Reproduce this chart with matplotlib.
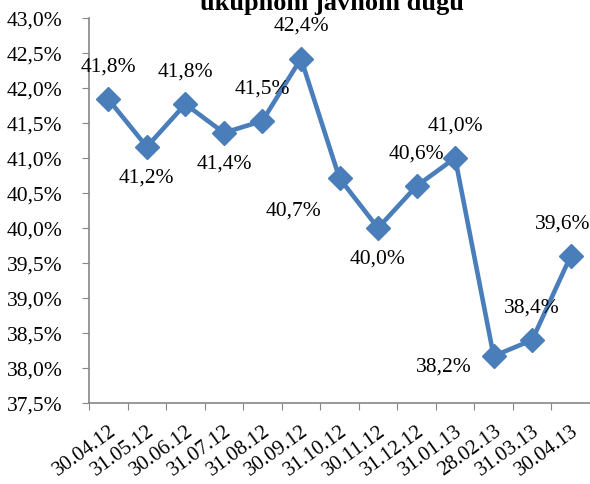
import matplotlib
matplotlib.use("Agg")
import matplotlib.pyplot as plt
from matplotlib.ticker import FuncFormatter

dates = ["30.04.12", "31.05.12", "30.06.12", "31.07.12", "31.08.12", "30.09.12",
         "31.10.12", "30.11.12", "31.12.12", "31.01.13", "28.02.13", "31.03.13", "30.04.13"]
values = [41.84, 41.16, 41.77, 41.36, 41.53, 42.42, 40.71, 40.00, 40.60, 41.00, 38.17, 38.40, 39.60]
label_pos = ["a", "b", "a", "b", "a", "a", "bl", "b", "a", "a", "l", "a", "ar"]
title_text = "ukupnom javnom dugu"

plt.rcParams['font.family'] = ['Liberation Serif', 'DejaVu Serif']
fig = plt.figure(figsize=(5.9, 4.85), dpi=100)
ax = fig.add_axes([89/590, 1 - 404/485, (590 - 89)/590, (404 - 19)/485])

x = list(range(len(values)))
ax.plot(x, values, color='#4A7EBB', lw=3.3, marker='D', markersize=12,
        markerfacecolor='#4A7EBB', markeredgecolor='#4A7EBB', zorder=3, clip_on=False)

ax.set_xlim(-0.5, len(values) - 0.5)
ax.set_ylim(37.5, 43.0)
ax.set_yticks([37.5 + 0.5 * i for i in range(12)])
ax.yaxis.set_major_formatter(FuncFormatter(lambda v, p: f"{v:.1f}%".replace('.', ',')))
ax.set_xticks([i - 0.5 for i in range(len(values) + 1)], minor=False)
ax.set_xticklabels([])
ax.set_xticks(x, minor=True)
ax.set_xticklabels(dates, minor=True, rotation=36, ha='right', rotation_mode='anchor', fontsize=15)
ax.tick_params(axis='x', which='minor', length=0, pad=13)
ax.tick_params(axis='x', which='major', length=5, color='#868686', direction='out')
ax.tick_params(axis='y', length=5, color='#868686', direction='out', labelsize=15.5, pad=14)
for s in ['top', 'right']:
    ax.spines[s].set_visible(False)
for s in ['left', 'bottom']:
    ax.spines[s].set_color('#868686')
    ax.spines[s].set_linewidth(1.2)

offsets = {"a": (0, 17, 'center', 'bottom'), "ar": (-6, 17, 'center', 'bottom'),
           "b": (0, -15, 'center', 'top'),
           "bl": (-33, -16, 'center', 'top'),
           "l": (-16, -7, 'right', 'center')}
for xi, v, pos in zip(x, values, label_pos):
    dx, dy, ha, va = offsets[pos]
    ax.annotate(f"{v:.1f}%".replace('.', ','), (xi, v), xytext=(dx, dy),
                textcoords='offset points', ha=ha, va=va, fontsize=15.5)

fig.text(332/590, 1 - 10/485, title_text, ha='center', va='baseline',
         fontsize=19, fontweight='bold')

fig.savefig("out.png", dpi=100)
